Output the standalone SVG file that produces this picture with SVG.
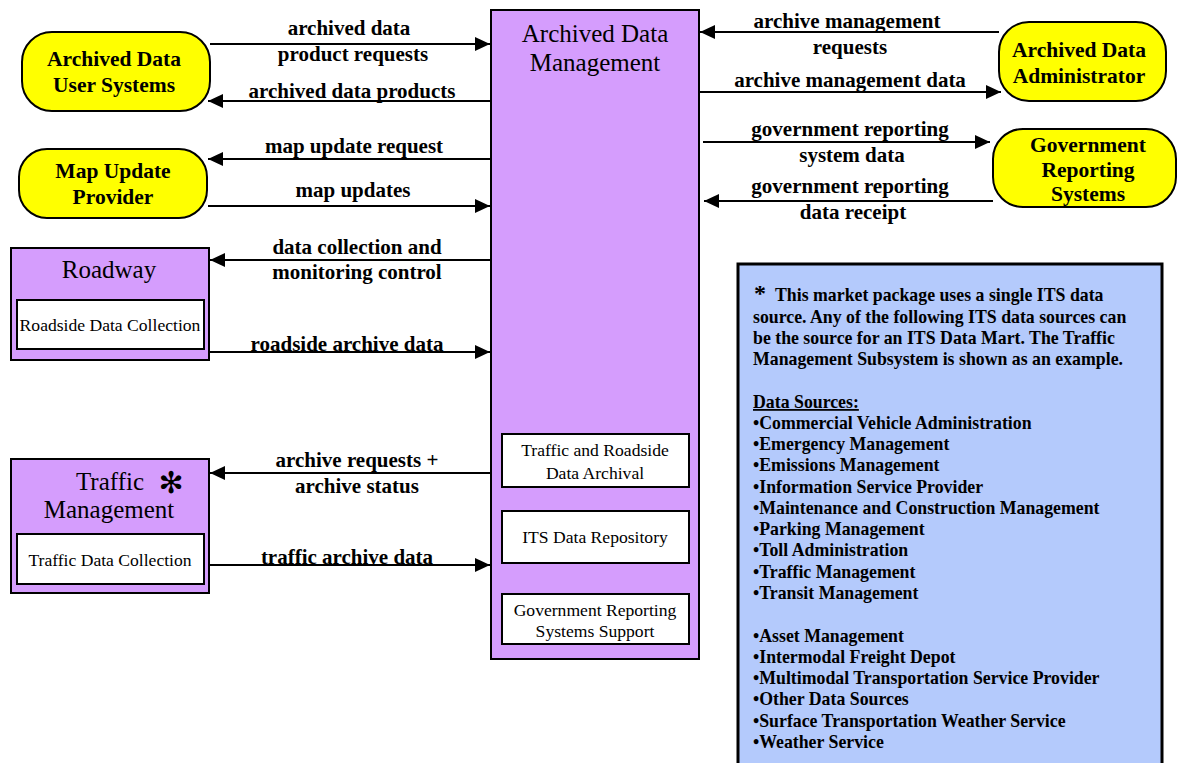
<svg xmlns="http://www.w3.org/2000/svg" width="1177" height="763" viewBox="0 0 1177 763">
<style>
.lbl{font-family:"Liberation Serif",serif;font-weight:bold;font-size:21px;fill:#000;text-anchor:middle}
.ext{font-family:"Liberation Serif",serif;font-weight:bold;font-size:21.5px;fill:#000;text-anchor:middle}
.sub{font-family:"Liberation Serif",serif;font-size:25px;fill:#000;text-anchor:middle}
.inner{font-family:"Liberation Serif",serif;font-size:17.6px;fill:#000;text-anchor:middle}
.note{font-family:"Liberation Serif",serif;font-weight:bold;font-size:17.8px;fill:#000}
.yel{fill:#FFFF00;stroke:#000;stroke-width:2}
.pur{fill:#D59DFD;stroke:#000;stroke-width:2}
.wht{fill:#FFFFFF;stroke:#000;stroke-width:2}
.flow{stroke:#000;stroke-width:2;fill:none;marker-end:url(#ah)}
</style>
<defs>
<marker id="ah" markerUnits="userSpaceOnUse" markerWidth="16" markerHeight="14" refX="15" refY="7" orient="auto">
<path d="M0,0 L15,7 L0,14 z" fill="#000"/>
</marker>
</defs>
<rect width="1177" height="763" fill="#FFFFFF"/>

<g id="connectors">
<path class="flow" d="M210,44 H490"/>
<path class="flow" d="M491,101 H208"/>
<path class="flow" d="M491,159 H208"/>
<path class="flow" d="M208,206 H490"/>
<path class="flow" d="M999,32 H700"/>
<path class="flow" d="M699,92 H1001"/>
<path class="flow" d="M703,142 H990"/>
<path class="flow" d="M993,201 H704"/>
<path class="flow" d="M491,260 H210"/>
<path class="flow" d="M209,352 H490"/>
<path class="flow" d="M491,473 H210"/>
<path class="flow" d="M209,565 H490"/>
<text class="lbl" x="349" y="35">archived data</text>
<text class="lbl" x="353" y="61">product requests</text>
<text class="lbl" x="352" y="98">archived data products</text>
<text class="lbl" x="354" y="153">map update request</text>
<text class="lbl" x="353" y="197">map updates</text>
<text class="lbl" x="847" y="28">archive management</text>
<text class="lbl" x="850" y="54">requests</text>
<text class="lbl" x="850" y="87">archive management data</text>
<text class="lbl" x="850" y="136">government reporting</text>
<text class="lbl" x="852" y="162">system data</text>
<text class="lbl" x="850" y="193">government reporting</text>
<text class="lbl" x="853" y="219">data receipt</text>
<text class="lbl" x="357" y="254">data collection and</text>
<text class="lbl" x="357" y="279">monitoring control</text>
<text class="lbl" x="347" y="351">roadside archive data</text>
<text class="lbl" x="357" y="467">archive requests +</text>
<text class="lbl" x="357" y="493">archive status</text>
<text class="lbl" x="347" y="564">traffic archive data</text>
</g>

<g id="archived-data-management">
<rect class="pur" x="491" y="10" width="208" height="649"/>
<text class="sub" x="595" y="42">Archived Data</text>
<text class="sub" x="595" y="71">Management</text>
</g>
<g id="traffic-roadside-archival">
<rect class="wht" x="502" y="434" width="187" height="53"/>
<text class="inner" x="595" y="456">Traffic and Roadside</text>
<text class="inner" x="595" y="479">Data Archival</text>
</g>
<g id="its-data-repository">
<rect class="wht" x="502" y="511" width="187" height="52"/>
<text class="inner" x="595" y="543">ITS Data Repository</text>
</g>
<g id="gov-reporting-support">
<rect class="wht" x="502" y="594" width="187" height="50"/>
<text class="inner" x="595" y="616">Government Reporting</text>
<text class="inner" x="595" y="637">Systems Support</text>
</g>

<g id="archived-data-user-systems">
<rect class="yel" x="22" y="32" width="188" height="79" rx="30" ry="30"/>
<text class="ext" x="114" y="66">Archived Data</text>
<text class="ext" x="114" y="92">User Systems</text>
</g>
<g id="map-update-provider">
<rect class="yel" x="19" y="149" width="188" height="69" rx="28" ry="28"/>
<text class="ext" x="113" y="178">Map Update</text>
<text class="ext" x="113" y="204">Provider</text>
</g>
<g id="archived-data-administrator">
<rect class="yel" x="999" y="22" width="167" height="79" rx="30" ry="30"/>
<text class="ext" x="1079" y="57">Archived Data</text>
<text class="ext" x="1079" y="83">Administrator</text>
</g>
<g id="government-reporting-systems">
<rect class="yel" x="993" y="129" width="183" height="78" rx="30" ry="30"/>
<text class="ext" x="1088" y="152">Government</text>
<text class="ext" x="1088" y="177">Reporting</text>
<text class="ext" x="1088" y="201">Systems</text>
</g>

<g id="roadway">
<rect class="pur" x="11" y="248" width="198" height="112"/>
<text class="sub" x="109" y="278">Roadway</text>
<rect class="wht" x="17" y="300" width="187" height="49"/>
<text class="inner" x="110" y="331">Roadside Data Collection</text>
</g>
<g id="traffic-management">
<rect class="pur" x="11" y="459" width="198" height="134"/>
<text class="sub" x="110" y="490">Traffic</text>
<text x="171" y="493" style="font-family:'DejaVu Sans',sans-serif;font-size:30px;font-weight:bold;text-anchor:middle">✻</text>
<text class="sub" x="109" y="518">Management</text>
<rect class="wht" x="17" y="534" width="187" height="50"/>
<text class="inner" x="110" y="566">Traffic Data Collection</text>
</g>

<g id="note">
<rect x="738" y="264" width="424" height="510" fill="#B4CAFC" stroke="#000" stroke-width="3"/>
<text x="754" y="301" style="font-family:'Liberation Serif',serif;font-weight:bold;font-size:24px">*</text>
<text class="note" x="775" y="301">This market package uses a single ITS data</text>
<text class="note" x="753" y="323">source. Any of the following ITS data sources can</text>
<text class="note" x="753" y="344">be the source for an ITS Data Mart. The Traffic</text>
<text class="note" x="753" y="365">Management Subsystem is shown as an example.</text>
<text class="note" x="753" y="408" text-decoration="underline">Data Sources:</text>
<text class="note" x="753" y="429">•Commercial Vehicle Administration</text>
<text class="note" x="753" y="450">•Emergency Management</text>
<text class="note" x="753" y="471">•Emissions Management</text>
<text class="note" x="753" y="493">•Information Service Provider</text>
<text class="note" x="753" y="514">•Maintenance and Construction Management</text>
<text class="note" x="753" y="535">•Parking Management</text>
<text class="note" x="753" y="556">•Toll Administration</text>
<text class="note" x="753" y="578">•Traffic Management</text>
<text class="note" x="753" y="599">•Transit Management</text>
<text class="note" x="753" y="642">•Asset Management</text>
<text class="note" x="753" y="663">•Intermodal Freight Depot</text>
<text class="note" x="753" y="684">•Multimodal Transportation Service Provider</text>
<text class="note" x="753" y="705">•Other Data Sources</text>
<text class="note" x="753" y="727">•Surface Transportation Weather Service</text>
<text class="note" x="753" y="748">•Weather Service</text>
</g>
</svg>
